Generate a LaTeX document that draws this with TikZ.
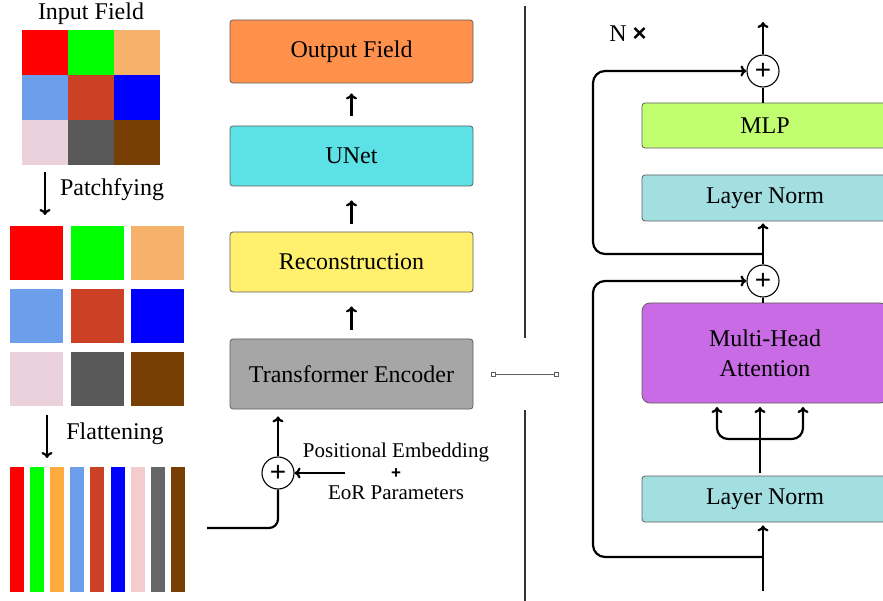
\documentclass[tikz,border=0pt]{standalone}
\usepackage{fontspec}
\setmainfont{Liberation Serif}
\newfontfamily\plusfont{Liberation Sans}
\usetikzlibrary{arrows.meta}
\definecolor{cA}{HTML}{FF0000}
\definecolor{cB}{HTML}{00FF00}
\definecolor{cC}{HTML}{F6B26B}
\definecolor{cD}{HTML}{6D9EEB}
\definecolor{cE}{HTML}{CC4125}
\definecolor{cF}{HTML}{0000FF}
\definecolor{cG}{HTML}{EAD1DC}
\definecolor{cH}{HTML}{595959}
\definecolor{cI}{HTML}{783F04}
\definecolor{sC}{HTML}{FFAB40}
\definecolor{sG}{HTML}{F4CCCC}
\definecolor{sH}{HTML}{666666}
\definecolor{outc}{HTML}{FF914D}
\definecolor{unetc}{HTML}{5CE1E6}
\definecolor{recc}{HTML}{FFF06E}
\definecolor{tec}{HTML}{A6A6A6}
\definecolor{mlpc}{HTML}{C1FF70}
\definecolor{lnc}{HTML}{A3DEE0}
\definecolor{mhac}{HTML}{C96BE4}
\definecolor{edgec}{HTML}{5F5F5F}
\tikzset{
  blk/.style={draw=edgec, line width=0.8pt, rounded corners=3pt, minimum width=243pt, inner sep=0pt, font=\fontsize{24}{27}\selectfont, align=center},
  rblk/.style={blk, minimum width=246pt},
  arr/.style={line width=2.2pt, -{To[length=6pt,width=11pt]}},
  ln/.style={line width=2.2pt},
  plusc/.style={circle, draw, line width=1.1pt, fill=white, minimum size=32pt, inner sep=0pt, font=\plusfont\fontsize{28}{28}\selectfont},
  lab/.style={font=\fontsize{24}{27}\selectfont, inner sep=0pt},
  slab/.style={font=\fontsize{21}{24}\selectfont, inner sep=0pt, align=center},
  sq/.style={draw=edgec, line width=0.8pt, fill=white, minimum size=4pt, inner sep=0pt},
  divl/.style={line width=2pt, draw=black!80}
}
\begin{document}
\begin{tikzpicture}[x=1pt,y=-1pt]
\useasboundingbox (0,0) rectangle (883,601);
\clip (0,0) rectangle (883,601);
\fill[white] (0,0) rectangle (883,601);
% ---- input field grid
\node[lab] (inlab) at (91,14) {Input Field};
\foreach \c [count=\k from 0] in {cA,cB,cC,cD,cE,cF,cG,cH,cI}{
  \pgfmathtruncatemacro{\r}{int(\k/3)}
  \pgfmathtruncatemacro{\q}{mod(\k,3)}
  \fill[\c] (22+46*\q,30+45*\r) rectangle ++(46,45);
}
% patches
\foreach \c [count=\k from 0] in {cA,cB,cC,cD,cE,cF,cG,cH,cI}{
  \pgfmathtruncatemacro{\r}{int(\k/3)}
  \pgfmathtruncatemacro{\q}{mod(\k,3)}
  \pgfmathsetmacro{\xx}{10+60.5*\q}
  \fill[\c] (\xx,226+63*\r) rectangle ++(53,54);
}
% strips
\foreach \c [count=\k from 0] in {cA,cB,sC,cD,cE,cF,sG,sH,cI}{
  \fill[\c] (10+20.1*\k,467) rectangle ++(14,125);
}
\coordinate (a1s) at (45,172);
\coordinate (a1e) at (45,215);
\draw[arr] (a1s) -- (a1e);
\node[lab] (patl) at (112,190) {Patchfying};
\coordinate (a2s) at (47,415);
\coordinate (a2e) at (47,458);
\draw[arr] (a2s) -- (a2e);
\node[lab] (flatl) at (115,434) {Flattening};
% ---- middle column
\node[blk, fill=outc, minimum height=63pt] (out) at (351.5,51.5) {Output Field};
\node[blk, fill=unetc, minimum height=60pt] (unet) at (351.5,156) {UNet};
\node[blk, fill=recc, minimum height=60pt] (rec) at (351.5,262) {Reconstruction};
\node[blk, fill=tec, minimum height=70pt] (te) at (351.5,374) {Transformer Encoder};
\draw[arr] ([yshift=10pt]unet.north) -- ([yshift=-10pt]out.south);
\draw[arr] ([yshift=8pt]rec.north) -- ([yshift=-14pt]unet.south);
\draw[arr] ([yshift=9pt]te.north) -- ([yshift=-14pt]rec.south);
\node[plusc] (p0) at (278,473) {+};
\draw[arr] (p0.north) -- ([yshift=-7pt]te.south -| p0.north);
\coordinate (pe) at (345,473);
\draw[arr] (pe) -- (p0.east);
\node[slab] (pos) at (396,471) {Positional Embedding\\[-3pt]{\plusfont\bfseries\fontsize{17}{17}\selectfont +}\\[-3pt]EoR Parameters};
\coordinate (inp) at (207,528);
\draw[ln, rounded corners=9pt] (inp) -| (p0.south);
% ---- divider and connector
\coordinate (d1) at (525,6);
\coordinate (d2) at (525,338);
\coordinate (d3) at (525,410);
\coordinate (d4) at (525,601);
\draw[divl] (d1) -- (d2);
\draw[divl] (d3) -- (d4);
\node[sq] (k1) at (493,374) {};
\node[sq] (k2) at (556,374) {};
\draw[draw=edgec, line width=1pt] (k1) -- (k2);
% ---- right column
\node[lab] (nx) at (628,34) {N \plusfont\bfseries\fontsize{24}{24}\selectfont ×};
\node[rblk, fill=mlpc, minimum height=45pt] (mlp) at (765,125.5) {MLP};
\node[rblk, fill=lnc, minimum height=46pt] (ln1) at (765,198) {Layer Norm};
\node[rblk, fill=mhac, minimum height=100pt, rounded corners=8pt] (mha) at (765,353) {Multi-Head\\[3pt]Attention};
\node[rblk, fill=lnc, minimum height=46pt] (ln2) at (765,499) {Layer Norm};
\node[plusc] (p1) at (763,71) {+};
\node[plusc] (p2) at (763,281) {+};
\coordinate (top) at (763,22);
\draw[arr] (p1.north) -- (top);
\draw[ln] (mlp.north -| p1) -- (p1.south);
\coordinate (s1) at (763,254);
\coordinate (l1) at (593,254);
\draw[arr, rounded corners=12pt] (s1) -- (l1) |- (p1.west);
\draw[arr] (p2.north) -- ([yshift=-2pt]ln1.south -| p2);
\draw[ln] (p2.south) -- (mha.north -| p2);
\coordinate (s2) at (763,557);
\coordinate (l2) at (593,557);
\draw[arr, rounded corners=12pt] (s2) -- (l2) |- (p2.west);
\coordinate (bin) at (763,591);
\draw[arr] (bin) -- ([yshift=-3pt]ln2.south -| bin);
% fork into attention
\coordinate (fc) at (760,473);
\coordinate (fj) at (760,439);
\coordinate (fl) at (717,407);
\coordinate (fm) at (760,407);
\coordinate (fr) at (803,407);
\draw[arr] (fc) -- (fm);
\draw[arr, rounded corners=11pt] (fj) -| (fl);
\draw[arr, rounded corners=11pt] (fj) -| (fr);
\end{tikzpicture}
\end{document}
